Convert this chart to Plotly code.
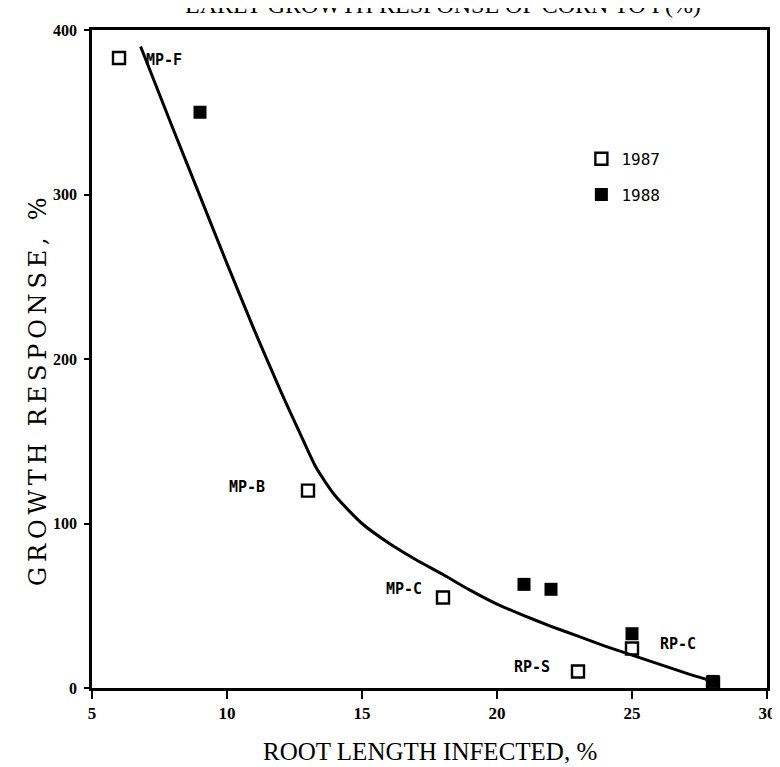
import plotly.graph_objects as go

# ---- data ----
x_1987 = [6, 13, 18, 23, 25, 28]
y_1987 = [383, 120, 55, 10, 24, 3]
x_1988 = [9, 21, 22, 25, 28]
y_1988 = [350, 63, 60, 33, 4]

curve_x = [6.8, 8, 9, 10, 11, 12, 12.7, 13.3, 14, 15, 16, 17, 18, 19, 20, 21, 22, 23, 24, 25, 26, 27, 28]
curve_y = [390, 340, 299, 258, 218, 180, 155, 134, 117, 100, 88, 78, 69, 59.5, 51, 44, 37.5, 31.5, 25.5, 20, 14.5, 9, 4]

label_text = ["MP-F", "MP-B", "MP-C", "RP-S", "RP-C"]
label_x = [7.65, 10.75, 16.55, 21.3, 26.7]
label_y = [382, 122, 60, 13, 27]

x_ticks = [5, 10, 15, 20, 25, 30]
y_ticks = [0, 100, 200, 300, 400]

title_text = "EARLY GROWTH RESPONSE OF CORN TO P(%)"
x_title = "ROOT LENGTH INFECTED, %"
y_title = "GROWTH RESPONSE, %"

fig = go.Figure()

fig.add_trace(go.Scatter(
    x=curve_x, y=curve_y, mode="lines", line=dict(color="black", width=3, shape="spline", smoothing=0.6),
    showlegend=False, hoverinfo="skip"))

fig.add_trace(go.Scatter(
    x=x_1987, y=y_1987, mode="markers", name="1987", legendgroup="a",
    marker=dict(symbol="square-open", size=12, color="black", line=dict(width=2.4, color="black")),
    cliponaxis=False))

fig.add_trace(go.Scatter(
    x=x_1988, y=y_1988, mode="markers", name="1988", legendgroup="b",
    marker=dict(symbol="square", size=13, color="black"),
    cliponaxis=False))

for t, lx, ly in zip(label_text, label_x, label_y):
    fig.add_annotation(x=lx, y=ly, text=t, showarrow=False, xref="x", yref="y",
                       font=dict(family="DejaVu Sans Mono", size=15, color="black", weight="bold"))

# title, cut off at the very top as in the reference
fig.add_annotation(x=0.52, y=1, xref="paper", yref="paper", xanchor="center", yanchor="bottom",
                   yshift=10, text=title_text, showarrow=False,
                   font=dict(family="Liberation Serif", size=24, color="black"))

# letter-spaced vertical axis title (thin spaces between letters)
y_title_spaced = "\u2009".join(y_title)
fig.add_annotation(x=-0.08, y=0.45, xref="paper", yref="paper", text=y_title_spaced, textangle=-90,
                   showarrow=False, xanchor="center", yanchor="middle",
                   font=dict(family="DejaVu Serif", size=24, color="black"))

fig.add_annotation(x=0.5, y=0, xref="paper", yref="paper", text=x_title, yshift=-63,
                   showarrow=False, xanchor="center", yanchor="middle",
                   font=dict(family="Liberation Serif", size=25, color="black"))

fig.update_layout(
    width=780, height=767,
    margin=dict(l=84, r=13, t=22, b=87),
    paper_bgcolor="white", plot_bgcolor="white",
    showlegend=True,
    legend=dict(x=0.725, y=0.83, xanchor="left", yanchor="top", bgcolor="rgba(0,0,0,0)",
                font=dict(family="DejaVu Sans Mono", size=16, color="black"),
                tracegroupgap=12, itemwidth=30),
)

fig.update_xaxes(range=[5, 30], tickvals=x_ticks, ticks="outside", ticklen=8, tickwidth=2,
                 tickcolor="black", showline=True, linecolor="black", linewidth=3, mirror=True,
                 showgrid=False, zeroline=False,
                 tickfont=dict(family="Liberation Serif", size=17, color="black", weight="bold"))
fig.update_yaxes(range=[0, 400], tickvals=y_ticks, ticks="outside", ticklen=5, tickwidth=2,
                 tickcolor="black", showline=True, linecolor="black", linewidth=2.5, mirror=True,
                 showgrid=False, zeroline=False, ticklabelstandoff=4,
                 tickfont=dict(family="Liberation Serif", size=16, color="black", weight="bold"))

fig.write_html("out.html")
